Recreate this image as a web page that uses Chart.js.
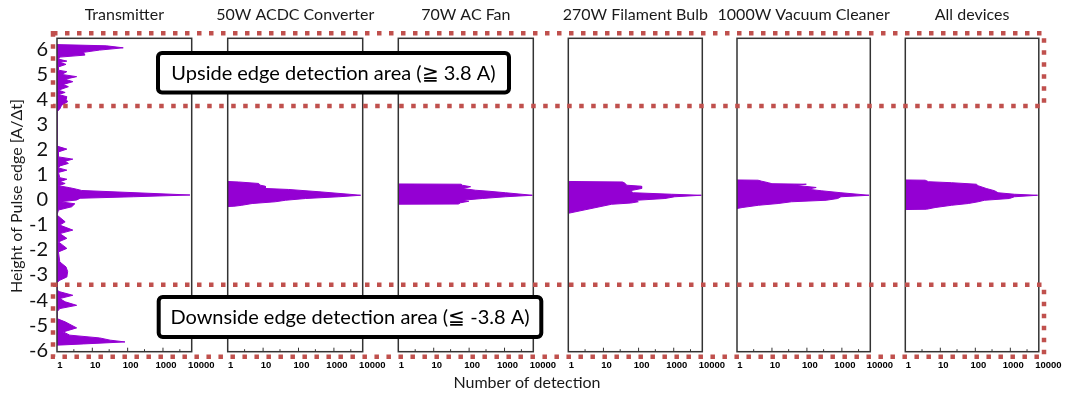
<!DOCTYPE html>
<html>
<head>
<meta charset="utf-8">
<script src="https://cdn.jsdelivr.net/npm/chart.js@4.4.1/dist/chart.umd.min.js"></script>
<style>
  html, body { margin: 0; padding: 0; background: #fff; }
  #wrap { position: relative; width: 1070px; height: 395px; }
  #wrap canvas { position: absolute; left: 0; top: 0; }
</style>
</head>
<body>
<div id="wrap"></div>
<script>
// Panel titles and axis ticks
const panelTitles = ['Transmitter', '50W ACDC Converter', '70W AC Fan', '270W Filament Bulb', '1000W Vacuum Cleaner', 'All devices'];
const yTicks = [-6, -5, -4, -3, -2, -1, 0, 1, 2, 3, 4, 5, 6];
const xTickLabels = [1, 10, 100, 1000, 10000];

// Transmitter: height of pulse edge [A/Δt] vs number of detection
const txHeight = [6.15, 6.1, 6.02, 5.93, 5.84, 5.73, 5.65, 5.57, 5.49, 5.44, 5.36, 5.26, 5.13, 5.07, 4.96, 4.87, 4.77, 4.67, 4.56, 4.47,
  4.33, 4.24, 4.16, 4.07, 3.97, 3.87, 3.73, 3.58, 3.47, 2.1, 1.98, 1.87, 1.67, 1.58, 1.5, 1.41, 1.31, 1.23, 1.14, 1.05,
  0.84, 0.78, 0.68, 0.61, 0.52, 0.44, 0.38, 0.33, 0.15, 0.08, 0.02, -0.05, -0.12, -0.2, -0.32, -0.45, -0.65, -0.92, -1.05, -1.25,
  -1.39, -1.58, -1.72, -1.98, -2.12, -2.52, -2.72, -2.9, -3.12, -3.25, -3.34, -3.65, -3.71, -3.85, -3.98, -4.11, -4.25, -4.38, -4.51, -4.78,
  -4.91, -5.15, -5.31, -5.44, -5.55, -5.64, -5.71, -5.79, -5.84];
const txCount = [1, 25, 75, 16, 5.6, 6.2, 1.2, 1.1, 1.9, 1.2, 1.8, 1.1, 1.1, 1.9, 1.35, 3.6, 1.7, 2.8, 1.5, 2.1,
  1.1, 1.7, 1.1, 1.9, 1.8, 2.0, 1.35, 1.2, 1, 1, 1.9, 1.1, 1.1, 2.8, 1.7, 2.1, 1.2, 1.1, 1.9, 1.1,
  1.2, 1.9, 1.2, 1.7, 1.1, 2.3, 3.6, 5, 5800, 145, 4.5, 3.6, 1.2, 3.2, 2.6, 1.1, 1, 1.7, 1.2, 2.8,
  1.2, 1.9, 1.1, 1.9, 1.1, 1.2, 1.8, 2.0, 1.9, 1.2, 1, 1, 1.2, 2.8, 1.2, 1.7, 3.6, 1.2, 1, 1,
  1.7, 3.6, 1.5, 2.3, 16, 32, 84, 5.6, 1];

// 50W ACDC Converter
const acdcHeight = [0.69, 0.67, 0.61, 0.54, 0.5, 0.41, 0.37, 0.28, 0.18, 0.14, 0.08, 0.01, -0.06, -0.12, -0.19, -0.26, -0.3, -0.31];
const acdcCount = [1, 2, 7.5, 8.4, 11.6, 11.6, 53, 378, 2680, 5700, 1380, 158, 43, 22, 4.9, 2.5, 1.5, 1];

// 70W AC Fan
const fanHeight = [0.59, 0.58, 0.54, 0.48, 0.41, 0.34, 0.3, 0.24, 0.14, 0.08, 0.01, -0.06, -0.1, -0.16, -0.21, -0.22];
const fanCount = [1, 60, 64, 110, 64, 152, 364, 1070, 6100, 1070, 235, 64, 98, 57, 50, 1];

// 270W Filament Bulb
const bulbHeight = [0.69, 0.67, 0.62, 0.54, 0.5, 0.41, 0.32, 0.24, 0.18, 0.14, 0.08, 0.01, -0.06, -0.12, -0.17, -0.22, -0.58];
const bulbCount = [1, 35, 41, 46, 122, 122, 57, 71, 870, 6100, 1070, 560, 88, 98, 60, 17, 1];

// 1000W Vacuum Cleaner
const vacHeight = [0.75, 0.74, 0.7, 0.64, 0.6, 0.58, 0.54, 0.45, 0.38, 0.32, 0.24, 0.14, 0.08, 0.01, -0.06, -0.12, -0.19, -0.26, -0.35, -0.39];
const vacCount = [1, 4, 5.1, 7.9, 10, 96, 45, 184, 107, 256, 940, 6000, 940, 760, 355, 36, 15, 4.1, 1.4, 1];

// All devices
const allHeight = [0.75, 0.74, 0.68, 0.64, 0.58, 0.52, 0.41, 0.32, 0.24, 0.18, 0.14, 0.08, 0.01, -0.06, -0.12, -0.19, -0.26, -0.35, -0.42, -0.43];
const allCount = [1, 3.7, 4.6, 21, 107, 120, 205, 355, 445, 1310, 6000, 1310, 940, 184, 120, 63, 21, 7.1, 4, 1];

const panelHeights = [txHeight, acdcHeight, fanHeight, bulbHeight, vacHeight, allHeight];
const panelCounts = [txCount, acdcCount, fanCount, bulbCount, vacCount, allCount];

// layout of the six plot frames (pixels)
const panelLeft = [57, 227.7, 398.3, 568.3, 737, 905.3];
const panelRight = [191.7, 362.7, 533.3, 702.3, 870.3, 1038.8];
const plotTop = 38.3, plotBottom = 351.7;
const W = 1070, H = 395;

const violet = '#9400d3';
const dotRed = '#c0504d';

function toPoints(heights, counts) {
  return heights.map((h, i) => ({ x: counts[i], y: h }));
}

const framePlugin = {
  id: 'frame',
  afterDatasetsDraw(chart) {
    const { ctx, chartArea: a, scales: { x, y } } = chart;
    const o = chart.options.plugins.frame;
    ctx.save();
    // frame
    ctx.strokeStyle = '#333';
    ctx.lineWidth = 1.5;
    ctx.strokeRect(a.left, a.top, a.right - a.left, a.bottom - a.top);

    // small ticks inside bottom edge
    ctx.lineWidth = 1;
    ctx.strokeStyle = '#333';
    for (let d = 1; d <= 1000; d *= 10) {
      [[d * 3, 2.5], [d * 10, 4]].forEach(([v, len]) => {
        const px = x.getPixelForValue(v);
        if (px > a.left + 1 && px < a.right - 1) {
          ctx.beginPath();
          ctx.moveTo(px, a.bottom);
          ctx.lineTo(px, a.bottom - len);
          ctx.stroke();
        }
      });
    }

    // x tick labels
    ctx.fillStyle = '#000';
    ctx.font = 'bold 9.5px "Liberation Sans", Arial, sans-serif';
    ctx.textAlign = 'center';
    ctx.textBaseline = 'middle';
    xTickLabels.forEach(v => {
      ctx.fillText(String(v), x.getPixelForValue(v) + 3, 365);
    });

    // panel title
    ctx.fillStyle = '#1a1a1a';
    ctx.font = '16px Lato, "Open Sans", sans-serif';
    ctx.fillText(o.title, (a.left + a.right) / 2, 15);

    if (o.first) {
      // y tick labels
      ctx.font = '20px Lato, "Open Sans", sans-serif';
      ctx.textAlign = 'right';
      ctx.fillStyle = '#111';
      yTicks.forEach(v => {
        ctx.fillText(String(v), 48, y.getPixelForValue(v) + 1);
      });
      // y axis title
      ctx.save();
      ctx.translate(17, 196);
      ctx.rotate(-Math.PI / 2);
      ctx.textAlign = 'center';
      ctx.font = '16px Lato, "Open Sans", sans-serif';
      ctx.fillStyle = '#1a1a1a';
      ctx.fillText('Height of Pulse edge [A/Δt]', 0, 0);
      ctx.restore();
      // x axis title
      ctx.textAlign = 'center';
      ctx.font = '16px Lato, "Open Sans", sans-serif';
      ctx.fillStyle = '#1a1a1a';
      ctx.fillText('Number of detection', 527, 383);
    }
    ctx.restore();
  },
  afterDraw(chart) {
    const o = chart.options.plugins.frame;
    if (!o.last) return;
    const { ctx, scales: { y } } = chart;
    ctx.save();
    // dotted detection areas
    ctx.strokeStyle = dotRed;
    ctx.lineWidth = 4.5;
    ctx.setLineDash([4.5, 7.5]);
    const areas = [[6.6, 3.7], [-3.43, -6.3]];
    areas.forEach(([hi, lo]) => {
      const t = y.getPixelForValue(hi), b = y.getPixelForValue(lo);
      ctx.strokeRect(53, t, 1044 - 53, b - t);
    });
    ctx.setLineDash([]);

    // label boxes
    const boxes = [
      { x: 158, y: 53, w: 351, h: 39.5, text: 'Upside edge detection area (≧ 3.8 A)' },
      { x: 158.7, y: 297, w: 382.6, h: 40, text: 'Downside edge detection area (≦ -3.8 A)' }
    ];
    boxes.forEach(bx => {
      ctx.beginPath();
      if (ctx.roundRect) ctx.roundRect(bx.x, bx.y, bx.w, bx.h, 4);
      else ctx.rect(bx.x, bx.y, bx.w, bx.h);
      ctx.fillStyle = '#fff';
      ctx.fill();
      ctx.lineWidth = 4;
      ctx.strokeStyle = '#000';
      ctx.stroke();
      ctx.fillStyle = '#000';
      ctx.font = '20px Lato, "Open Sans", sans-serif';
      ctx.textAlign = 'center';
      ctx.textBaseline = 'middle';
      ctx.fillText(bx.text, bx.x + bx.w / 2, bx.y + bx.h / 2 + 1);
    });
    ctx.restore();
  }
};

const wrap = document.getElementById('wrap');
panelTitles.forEach((title, i) => {
  const cv = document.createElement('canvas');
  cv.width = W;
  cv.height = H;
  cv.style.width = W + 'px';
  cv.style.height = H + 'px';
  wrap.appendChild(cv);
  new Chart(cv.getContext('2d'), {
    type: 'line',
    data: {
      datasets: [{
        label: title,
        data: toPoints(panelHeights[i], panelCounts[i]),
        borderColor: violet,
        backgroundColor: violet,
        borderWidth: 1,
        pointRadius: 0,
        tension: 0,
        fill: { value: 1 }
      }]
    },
    options: {
      indexAxis: 'y',
      responsive: false,
      animation: false,
      events: [],
      layout: {
        padding: { left: panelLeft[i], right: W - panelRight[i], top: plotTop, bottom: H - plotBottom }
      },
      scales: {
        x: { type: 'logarithmic', min: 1, max: 6500, display: false },
        y: { type: 'linear', min: -6.1, max: 6.4, display: false }
      },
      plugins: {
        legend: { display: false },
        tooltip: { enabled: false },
        frame: { title: title, first: i === 0, last: i === panelTitles.length - 1 }
      }
    },
    plugins: [framePlugin]
  });
});
</script>
</body>
</html>
